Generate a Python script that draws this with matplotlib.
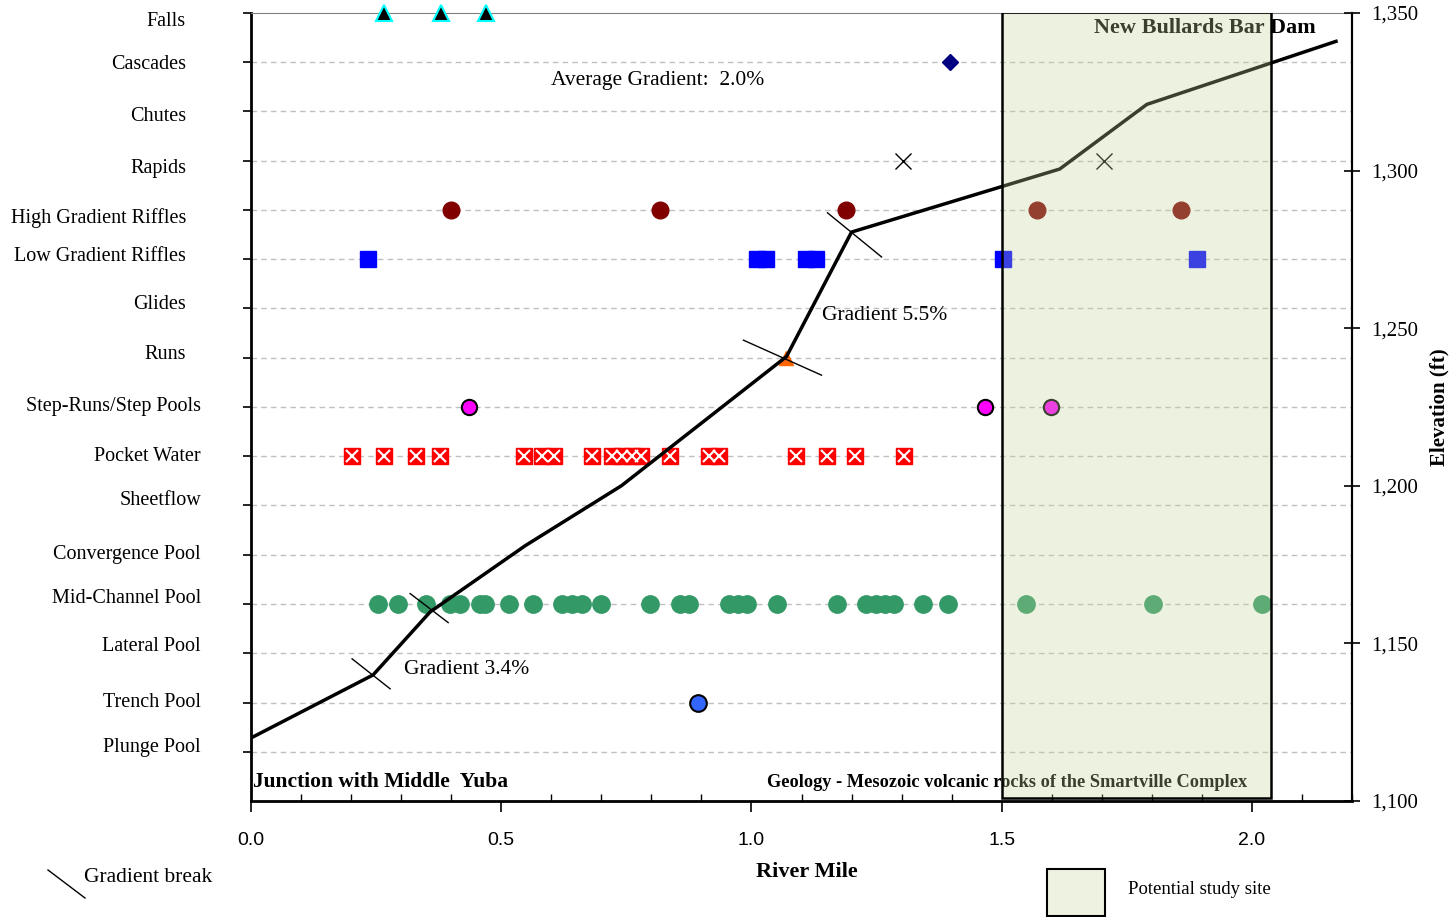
import numpy as np
import matplotlib
matplotlib.use("Agg")
import matplotlib.pyplot as plt
from matplotlib.patches import Rectangle
from matplotlib.lines import Line2D

plt.rcParams['font.family'] = ['Liberation Serif', 'DejaVu Serif']

# habitat categories, bottom (1) to top (16)
habitats = ['Plunge Pool', 'Trench Pool', 'Lateral Pool', 'Mid-Channel Pool',
            'Convergence Pool', 'Sheetflow', 'Pocket Water', 'Step-Runs/Step Pools',
            'Runs', 'Glides', 'Low Gradient Riffles', 'High Gradient Riffles',
            'Rapids', 'Chutes', 'Cascades', 'Falls']
# small vertical nudges of the label text boxes (category units)
label_nudge = [0.08, 0, 0.14, 0.12, 0, 0.1, 0, 0, 0.06, 0.08, 0.06,
               -0.16, -0.16, -0.1, -0.04, -0.18]

# river mile of each mapped habitat unit
falls_x = [0.266, 0.38, 0.47]
cascades_x = [1.396]
rapids_x = [1.302, 1.704]
hgr_x = [0.40, 0.818, 1.188, 1.57, 1.858]
lgr_x = [0.234, 1.012, 1.03, 1.108, 1.128, 1.502, 1.89]
runs_x = [1.07]
steprun_x = [0.436, 1.466, 1.598]
pocket_x = [0.202, 0.266, 0.33, 0.378, 0.546, 0.582, 0.606, 0.682, 0.722, 0.742,
            0.762, 0.78, 0.838, 0.916, 0.936, 1.09, 1.15, 1.206, 1.304]
midpool_x = [0.254, 0.294, 0.35, 0.398, 0.418, 0.458, 0.468, 0.516, 0.564, 0.622,
             0.642, 0.662, 0.70, 0.798, 0.858, 0.876, 0.956, 0.974, 0.992, 1.052,
             1.17, 1.228, 1.248, 1.266, 1.284, 1.342, 1.392, 1.548, 1.802, 2.02]
trench_x = [0.894]

# longitudinal profile
profile_mile = [0.0, 0.244, 0.358, 0.548, 0.74, 1.07, 1.2, 1.616, 1.79, 2.168]
profile_elev = [1120, 1140, 1160, 1181, 1200, 1241, 1280.5, 1300.5, 1321, 1341]

# gradient break tick marks (start/end in mile, elevation)
breaks = [((0.202, 1145.1), (0.278, 1135.6)),
          ((0.318, 1165.8), (0.394, 1156.6)),
          ((0.984, 1246.2), (1.14, 1235.1)),
          ((1.152, 1286.6), (1.26, 1272.6))]

site_start, site_end = 1.5, 2.038

W, H = 1452, 917
fig = plt.figure(figsize=(W / 100, H / 100), dpi=100)
ax = fig.add_axes([251 / W, 1 - 801 / H, (1352 - 251) / W, (801 - 13) / H])
ax2 = ax.twinx()

def fx(px):
    return px / W

def fy(py):
    return 1 - py / H

# category axis
ax.set_xlim(0, 2.2)
ax.set_ylim(0, 16)
ax.set_yticks(range(1, 17))
ax.set_yticklabels([])
for y in range(1, 16):
    ax.axhline(y, color='#c0c0c0', ls=(0, (4, 3)), lw=1, zorder=0)
ax.tick_params(axis='y', direction='out', length=6, width=1.2)
for i, name in enumerate(habitats):
    xa = (186 - 251) / 1101 if i >= 8 else (201 - 251) / 1101
    ax.text(xa, i + 1 + label_nudge[i], name, transform=ax.get_yaxis_transform(),
            ha='right', va='center', fontsize=14.5)

ax.set_xticks(np.arange(0, 2.01, 0.5))
ax.set_xticklabels(['0.0', '0.5', '1.0', '1.5', '2.0'],
                   fontfamily='Liberation Sans', fontsize=14)
ax.set_xticks(np.arange(0, 2.21, 0.1), minor=True)
ax.tick_params(axis='x', which='major', direction='out', length=8, width=1.2, pad=14)
ax.tick_params(axis='x', which='minor', direction='in', length=5, width=1)
for s in ['left', 'bottom']:
    ax.spines[s].set_linewidth(2)
ax.spines['top'].set_color('#808080')
ax.spines['right'].set_linewidth(1.5)
ax.set_xlabel('River Mile', fontsize=16, fontweight='bold', labelpad=12)
ax.xaxis.set_label_coords(0.505, -0.078)

# habitat markers
ax.plot(falls_x, [16] * len(falls_x), '^', mfc='black', mec='cyan', ms=11, mew=1.5,
        clip_on=False, zorder=5)
ax.plot(cascades_x, [15] * len(cascades_x), 'D', color='#000080', ms=8, zorder=5)
ax.plot(rapids_x, [13] * len(rapids_x), 'x', color='black', ms=12, mew=1, zorder=5)
ax.plot(hgr_x, [12] * len(hgr_x), 'o', color='#800000', ms=12, zorder=5)
ax.plot(lgr_x, [11] * len(lgr_x), 's', color='#0000ff', ms=11, zorder=5)
ax.plot(runs_x, [9] * len(runs_x), '^', color='#ff6600', ms=10, zorder=5)
ax.plot(steprun_x, [8] * len(steprun_x), 'o', mfc='#ff00ff', mec='black', ms=11,
        mew=1.5, zorder=5)
ax.plot(pocket_x, [7] * len(pocket_x), 's', color='#ff0000', ms=11, zorder=5)
ax.plot(pocket_x, [7] * len(pocket_x), 'x', color='white', ms=9, mew=1.5, zorder=6)
ax.plot(midpool_x, [4] * len(midpool_x), 'o', color='#339966', ms=12.5, zorder=5)
ax.plot(trench_x, [2] * len(trench_x), 'o', mfc='#3366ff', mec='black', ms=12,
        mew=1.5, zorder=5)

# elevation axis
ax2.set_ylim(1100, 1350)
ax2.set_yticks(range(1100, 1351, 50))
ax2.set_yticklabels(['{:,}'.format(v) for v in range(1100, 1351, 50)], fontsize=15)
ax2.tick_params(axis='y', direction='inout', length=12, width=1.2, pad=8)
ax2.spines['right'].set_linewidth(1.5)
ax2.spines['top'].set_visible(False)
ax2.spines['left'].set_visible(False)
ax2.spines['bottom'].set_visible(False)
ax2.set_ylabel('Elevation (ft)', fontsize=15, fontweight='bold', labelpad=8)

ax2.plot(profile_mile, profile_elev, color='black', lw=2.5, zorder=3)
for (a, b) in breaks:
    ax2.plot([a[0], b[0]], [a[1], b[1]], color='black', lw=1, zorder=3)

ax2.text(0.6, 1328.6, 'Average Gradient:  2.0%', fontsize=15.5, va='center', zorder=3)
ax2.text(1.14, 1253.9, 'Gradient 5.5%', fontsize=15.5, va='center', zorder=3)
ax2.text(0.306, 1141.6, 'Gradient 3.4%', fontsize=15.5, va='center', zorder=3)
ax2.text(2.128, 1345.1, 'New Bullards Bar Dam', fontsize=16, fontweight='bold',
         ha='right', va='center', zorder=3)
ax2.text(0.004, 1106, 'Junction with Middle  Yuba', fontsize=15.5, fontweight='bold',
         va='center', zorder=3)
ax2.text(1.032, 1106, 'Geology - Mesozoic volcanic rocks of the Smartville Complex',
         fontsize=13.2, fontweight='bold', va='center', zorder=3)

# potential study site
ax2.add_patch(Rectangle((site_start, 1101), site_end - site_start, 249.3,
                        facecolor='#c4d79b', alpha=0.3, edgecolor='none', zorder=8))
ax2.add_patch(Rectangle((site_start, 1101), site_end - site_start, 249.3,
                        facecolor='none', edgecolor='black', lw=1.8, zorder=9))

# legend items
fig.add_artist(Line2D([fx(48), fx(85)], [fy(870), fy(898)], color='black', lw=1))
fig.text(fx(84), fy(877), 'Gradient break', fontsize=15.5, va='center')
fig.add_artist(Rectangle((fx(1047), fy(916)), fx(58), 47 / H, facecolor='#eef3e1',
                         edgecolor='black', lw=1.5, transform=fig.transFigure))
fig.text(fx(1128), fy(889), 'Potential study site', fontsize=13.5, va='center')

fig.savefig('out.png', dpi=100)
